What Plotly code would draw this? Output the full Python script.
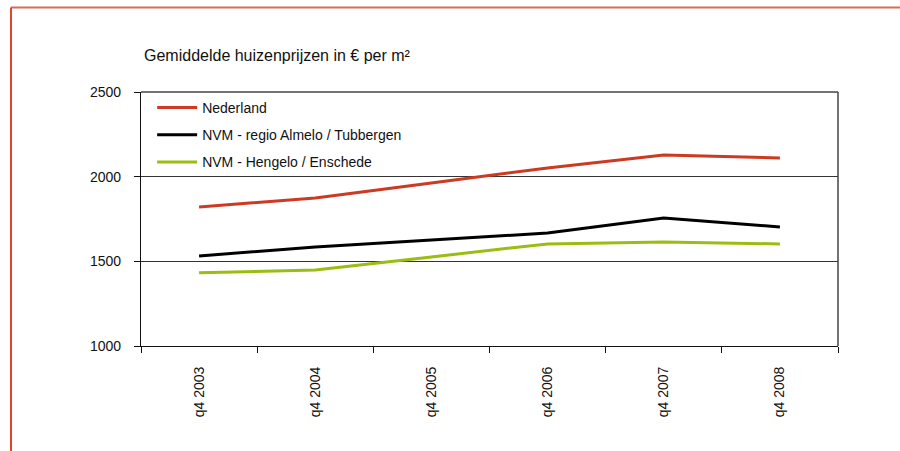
import plotly.graph_objects as go

categories = ["q4 2003", "q4 2004", "q4 2005", "q4 2006", "q4 2007", "q4 2008"]
nederland = [1821, 1874, 1963, 2051, 2128, 2110]
almelo_tubbergen = [1532, 1585, 1626, 1667, 1756, 1703]
hengelo_enschede = [1432, 1449, 1526, 1603, 1614, 1603]
y_ticks = [1000, 1500, 2000, 2500]

series = [
    ("Nederland", nederland, "#cc3a22"),
    ("NVM - regio Almelo / Tubbergen", almelo_tubbergen, "#000000"),
    ("NVM - Hengelo / Enschede", hengelo_enschede, "#9abd12"),
]

fig = go.Figure()
for i, (name, vals, col) in enumerate(series):
    fig.add_trace(go.Scatter(x=categories, y=vals, mode="lines", name=name,
                             legendgroup=f"g{i}",
                             line=dict(color=col, width=3)))

L, R, T, B = 141, 62, 92, 105
W, H = 900, 451
pw, ph = W - L - R, H - T - B

def px(x):
    return (x - L) / pw

def py(y):
    return (H - B - y) / ph

fig.update_layout(
    width=W, height=H,
    margin=dict(l=L, r=R, t=T, b=B),
    paper_bgcolor="white", plot_bgcolor="white",
    font=dict(family="Liberation Sans, Arial, sans-serif", size=14, color="#111"),
    showlegend=True,
    legend=dict(x=0.016, y=1.0, xanchor="left", yanchor="top",
                bgcolor="rgba(0,0,0,0)", font=dict(size=14),
                traceorder="grouped", tracegroupgap=6, itemwidth=40),
    xaxis=dict(type="category", showgrid=False, showline=True, linecolor="#111",
               linewidth=1.2, ticks="outside", ticklen=6, tickcolor="#111",
               tickson="boundaries", tickangle=-90, ticklabelstandoff=14,
               range=[-0.5, 5.5], mirror=False, zeroline=False,
               tickfont=dict(size=14)),
    yaxis=dict(range=[1000, 2500], tickvals=y_ticks, showgrid=True,
               gridcolor="#333", gridwidth=1, showline=True, linecolor="#111",
               linewidth=1.2, ticks="outside", ticklen=6, tickcolor="#111",
               ticklabelstandoff=10, zeroline=False, tickfont=dict(size=14)),
    annotations=[dict(text="Gemiddelde huizenprijzen in € per m²", xref="paper",
                      yref="paper", x=px(142), y=py(55), xanchor="left",
                      yanchor="middle", showarrow=False, font=dict(size=16))],
    shapes=[
        dict(type="line", xref="paper", yref="paper", x0=0, x1=1, y0=1, y1=1,
             line=dict(color="#444", width=1.5)),
        dict(type="line", xref="paper", yref="paper", x0=1, x1=1, y0=0, y1=1,
             line=dict(color="#444", width=1.5)),
        dict(type="line", xref="paper", yref="paper", x0=px(11), x1=px(900),
             y0=py(7.5), y1=py(7.5), line=dict(color="#dc6a58", width=2)),
        dict(type="line", xref="paper", yref="paper", x0=px(11), x1=px(11),
             y0=py(7.5), y1=py(451), line=dict(color="#e2452c", width=2)),
    ],
)

fig.write_html("out.html", config={"displayModeBar": False},
               post_script="document.body.style.margin='0';")
